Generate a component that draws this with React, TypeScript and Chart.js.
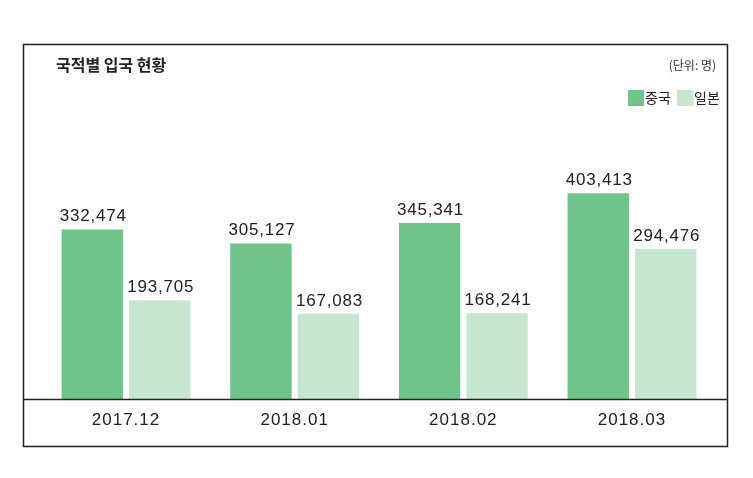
import React, { useEffect, useRef } from "react";
import { Chart, registerables } from "chart.js";

Chart.register(...registerables);

const categories = ["2017.12", "2018.01", "2018.02", "2018.03"];
const seriesNames = ["중국", "일본"];
const chinaValues = [332474, 305127, 345341, 403413];
const japanValues = [193705, 167083, 168241, 294476];
const titleText = "국적별 입국 현황";
const unitText = "(단위: 명)";

const GREEN = "#6fc38b";
const LIGHT = "#c7e6d0";
const INK = "#222222";
const NUM_FONT = "'Liberation Sans', Arial, sans-serif";
const KR_FONT = "'Noto Sans CJK KR', 'Noto Sans', sans-serif";

const decorPlugin = {
  id: "decor",
  beforeDraw(chart: any) {
    const ctx = chart.ctx as any;
    ctx.letterSpacing = "1px";
  },
  afterDraw(chart: any) {
    const ctx = chart.ctx as any;
    const area = chart.chartArea;
    ctx.save();
    // outer box
    ctx.strokeStyle = INK;
    ctx.lineWidth = 1.5;
    ctx.strokeRect(23.5, 44.5, 704, 402);
    // axis line
    ctx.beginPath();
    ctx.moveTo(23.5, area.bottom + 0.5);
    ctx.lineTo(727.5, area.bottom + 0.5);
    ctx.stroke();

    // title
    ctx.letterSpacing = "0px";
    ctx.fillStyle = INK;
    ctx.textBaseline = "middle";
    ctx.textAlign = "left";
    ctx.font = `bold 16px ${KR_FONT}`;
    ctx.fillText(titleText, 56, 64.5);

    // unit
    ctx.font = `12px ${KR_FONT}`;
    ctx.textAlign = "right";
    ctx.fillStyle = "#333333";
    ctx.fillText(unitText, 716, 65);

    // legend
    const colors = [GREEN, LIGHT];
    const boxX = [628, 677];
    ctx.font = `14px ${KR_FONT}`;
    ctx.textAlign = "left";
    seriesNames.forEach((name, i) => {
      ctx.fillStyle = colors[i];
      ctx.fillRect(boxX[i], 90, 16, 16);
      ctx.fillStyle = INK;
      ctx.fillText(name, boxX[i] + 17, 98);
    });

    // data labels
    ctx.letterSpacing = "0.8px";
    ctx.font = `17px ${NUM_FONT}`;
    ctx.textAlign = "center";
    ctx.textBaseline = "alphabetic";
    ctx.fillStyle = INK;
    chart.data.datasets.forEach((ds: any, di: number) => {
      const meta = chart.getDatasetMeta(di);
      meta.data.forEach((bar: any, i: number) => {
        const v = ds.data[i] as number;
        ctx.fillText(v.toLocaleString("en-US"), bar.x + 1, bar.y - 8);
      });
    });
    ctx.restore();
  },
};

export default function App() {
  const ref = useRef<HTMLCanvasElement | null>(null);
  useEffect(() => {
    if (!ref.current) return;
    const chart = new Chart(ref.current, {
      type: "bar",
      data: {
        labels: categories,
        datasets: [
          {
            label: seriesNames[0],
            data: chinaValues,
            backgroundColor: GREEN,
            borderWidth: 0,
            barPercentage: 0.91,
            categoryPercentage: 0.8,
          },
          {
            label: seriesNames[1],
            data: japanValues,
            backgroundColor: LIGHT,
            borderWidth: 0,
            barPercentage: 0.91,
            categoryPercentage: 0.8,
          },
        ],
      },
      options: {
        animation: false,
        responsive: false,
        maintainAspectRatio: false,
        layout: { padding: { left: 41.7, right: 36.7, top: 144, bottom: 36.6 } },
        plugins: {
          legend: { display: false },
          title: { display: false },
          tooltip: { enabled: false },
        },
        scales: {
          x: {
            grid: { display: false, drawTicks: false },
            border: { display: false },
            ticks: {
              color: INK,
              padding: 11,
              font: { family: NUM_FONT, size: 17 },
            },
          },
          y: { display: false, min: 0, max: 500000 },
        },
      },
      plugins: [decorPlugin],
    });
    return () => chart.destroy();
  }, []);
  return (
    <div style={{ position: "absolute", left: 0, top: 0, width: 753, height: 478, background: "#fff" }}>
      <canvas ref={ref} width={753} height={478} style={{ display: "block" }} />
    </div>
  );
}
